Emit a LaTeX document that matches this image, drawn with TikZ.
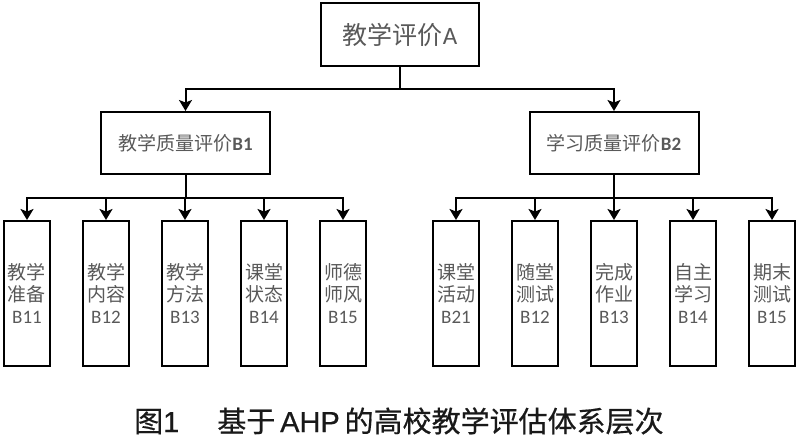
\documentclass[tikz,border=0pt]{standalone}
\usepackage{fontspec}
\setmainfont{Carlito}
\newfontfamily\cjk{Noto Sans CJK SC}
\newfontfamily\lat{Carlito}
\newfontfamily\capfont[FakeBold=0.5]{Noto Sans CJK SC}
\newfontfamily\caplat[FakeBold=0.5]{Liberation Sans}
\usetikzlibrary{arrows.meta}
\definecolor{txt}{gray}{0.35}
\definecolor{captxt}{gray}{0.1}
\tikzset{
  box/.style={draw=black, line width=2pt, inner sep=0pt, text=txt},
  leaf/.style={box, minimum width=46pt, minimum height=145pt, align=center, font=\fontsize{19}{22}\selectfont},
  mid/.style={box, minimum width=169pt, minimum height=62pt, font=\fontsize{19}{22}\selectfont},
  conn/.style={line width=2pt, -{Stealth[length=11pt,width=13pt,inset=2.5pt]}},
  wire/.style={line width=2pt}
}
\begin{document}
\begin{tikzpicture}[x=1pt,y=-1pt]
\useasboundingbox (0,0) rectangle (800,437);
\node[box, minimum width=158pt, minimum height=63pt, font=\fontsize{25}{28}\selectfont] (A) at (400,34.5) {{\cjk 教学评价}{\lat A}};
\node[mid] (B1) at (185.5,143) {{\cjk 教学质量评价}{\lat\bfseries B1}};
\node[mid] (B2) at (614,143) {{\cjk 学习质量评价}{\lat\bfseries B2}};
% leaves
\node[leaf] (L1) at (27,293.5) {{\cjk 教学}\\{\cjk 准备}\\B11};
\node[leaf] (L2) at (106,293.5) {{\cjk 教学}\\{\cjk 内容}\\B12};
\node[leaf] (L3) at (185,293.5) {{\cjk 教学}\\{\cjk 方法}\\B13};
\node[leaf] (L4) at (264,293.5) {{\cjk 课堂}\\{\cjk 状态}\\B14};
\node[leaf] (L5) at (343,293.5) {{\cjk 师德}\\{\cjk 师风}\\B15};
\node[leaf] (R1) at (456,293.5) {{\cjk 课堂}\\{\cjk 活动}\\B21};
\node[leaf] (R2) at (535,293.5) {{\cjk 随堂}\\{\cjk 测试}\\B12};
\node[leaf] (R3) at (614,293.5) {{\cjk 完成}\\{\cjk 作业}\\B13};
\node[leaf] (R4) at (693,293.5) {{\cjk 自主}\\{\cjk 学习}\\B14};
\node[leaf] (R5) at (772,293.5) {{\cjk 期末}\\{\cjk 测试}\\B15};
% connectors
\coordinate (ja) at (400,89);
\draw[wire] (A.south) -- (ja);
\draw[conn] (ja) -| (B1.north);
\draw[conn] (ja) -| (B2.north);
\coordinate (jb1) at (185.5,198);
\coordinate (jb2) at (614,198);
\draw[wire] (B1.south) -- (jb1);
\draw[wire] (B2.south) -- (jb2);
\foreach \n in {L1,L2,L3,L4,L5}{\draw[conn] (jb1) -| (\n.north);}
\foreach \n in {R1,R2,R3,R4,R5}{\draw[conn] (jb2) -| (\n.north);}
% caption
\node[anchor=west, inner sep=0pt, text=captxt, font=\fontsize{29}{32}\selectfont] (cap) at (134,421)
  {{\capfont 图}{\caplat 1}\hspace{38pt}{\capfont 基于}{\caplat\,AHP\,}{\capfont 的高校教学评估体系层次}};
\end{tikzpicture}
\end{document}
